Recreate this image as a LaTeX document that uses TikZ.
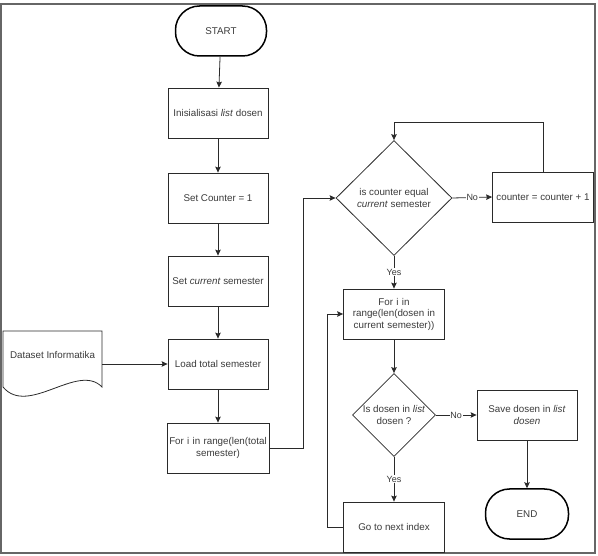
\documentclass[tikz,border=0pt]{standalone}
\usepackage{fontspec}
\setmainfont{Liberation Sans}
\usetikzlibrary{shapes.geometric,arrows.meta}
\definecolor{txt}{HTML}{3A3A3A}
\definecolor{ln}{HTML}{2A2A2A}
\begin{document}
\begin{tikzpicture}[x=1pt,y=-1pt,
  every node/.style={font=\fontsize{9.8}{11.5}\selectfont, text=txt},
  procbox/.style={draw=ln, line width=0.8pt, rectangle, minimum width=100pt, minimum height=50pt, inner sep=2pt, align=center},
  termbox/.style={draw=black, line width=1.5pt, rectangle, rounded corners=24pt, minimum height=50pt, inner sep=0pt, align=center},
  decbox/.style={draw=ln, line width=0.8pt, diamond, inner sep=0pt, align=center},
  arr/.style={draw=ln, line width=0.8pt, -{Stealth[length=6pt,width=5.5pt,inset=1pt]}},
  lnk/.style={draw=ln, line width=0.8pt},
  lbl/.style={fill=white, inner sep=1pt, font=\fontsize{9}{10}\selectfont}
]
\useasboundingbox (0,0) rectangle (598,556);
% frame
\draw[draw=black!60, line width=1.8pt] (1,4) rectangle (595,553);

% left column
\node[termbox, minimum width=91pt] (start) at (221,31) {START};
\node[procbox] (b1) at (218,113) {Inisialisasi \textit{list} dosen};
\node[procbox] (b2) at (218,198) {Set Counter = 1};
\node[procbox] (b3) at (218,281) {Set \textit{current} semester};
\node[procbox] (b4) at (218,364) {Load total semester};
\node[procbox, text width=98pt] (b5) at (218,448) {For i in range(len(total semester)};

% document
\draw[draw=ln, line width=0.8pt] (3,331) -- (102,331) -- (102,387)
  .. controls (78,362) and (28,417) .. (3,387) -- cycle;
\node[minimum width=99pt, inner sep=0pt] (doc) at (52.5,355) {Dataset Informatika};

% right part
\node[decbox, minimum width=116pt, minimum height=115pt] (d1) at (394,198) {is counter equal\\\textit{current} semester};
\node[procbox, minimum width=101pt] (cnt) at (543,197) {counter = counter + 1};
\node[procbox, minimum width=101pt, text width=90pt] (f2) at (394,314) {For i in range(len(dosen in current semester))};
\node[decbox, minimum width=83pt, minimum height=83pt] (d2) at (394,415) {Is dosen in \textit{list}\\dosen ?};
\node[procbox] (sv) at (527,415) {Save dosen in \textit{list}\\\textit{dosen}};
\node[procbox, minimum width=101pt] (nx) at (394,527) {Go to next index};
\node[termbox, minimum width=83pt] (en) at (527,514) {END};

% connectors
\draw[arr] (start) -- (b1);
\draw[arr] (b1) -- (b2);
\draw[arr] (b2) -- (b3);
\draw[arr] (b3) -- (b4);
\draw[arr] (b4) -- (b5);
\draw[arr] (doc.east |- b4.west) -- (b4.west);
\draw[arr] (b5.east) -- ++(34,0) |- (d1.west);
\draw[arr] (d1.east) -- node[lbl] {No} (cnt.west);
\draw[arr] (cnt.north) -- ++(0,-49) -| (d1.north);
\draw[arr] (d1.south) -- node[lbl] {Yes} (f2.north);
\draw[arr] (f2) -- (d2);
\draw[arr] (d2.east) -- node[lbl] {No} (sv.west);
\draw[arr] (d2.south) -- node[lbl] {Yes} (nx.north);
\draw[arr] (nx.west) -- ++(-16,0) |- (f2.west);
\draw[arr] (sv) -- (en);
\end{tikzpicture}
\end{document}
